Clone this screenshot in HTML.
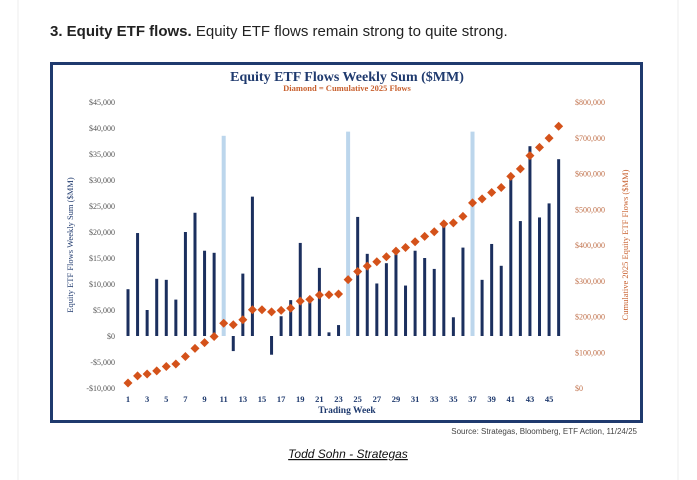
<!DOCTYPE html>
<html><head><meta charset="utf-8"><style>
html,body{margin:0;padding:0;background:#fff;width:697px;height:480px;overflow:hidden}
svg{display:block}
</style></head><body>
<svg id="chart" width="697" height="480" xmlns="http://www.w3.org/2000/svg">
<rect x="18" y="-2" width="660" height="490" fill="#fff" stroke="#eee"/>
<text x="50" y="36" font-family="Liberation Sans, sans-serif" font-size="15" fill="#222"><tspan font-weight="bold">3. Equity ETF flows.</tspan> Equity ETF flows remain strong to quite strong.</text>
<rect x="51.5" y="63.5" width="590" height="358" fill="#fff" stroke="#1f3a6e" stroke-width="3"/>
<text x="347" y="81" text-anchor="middle" font-family="Liberation Serif, serif" font-weight="bold" font-size="14" fill="#1f3a6e">Equity ETF Flows Weekly Sum ($MM)</text>
<text x="347" y="91" text-anchor="middle" font-family="Liberation Serif, serif" font-weight="bold" font-size="8.5" fill="#c8602e">Diamond = Cumulative 2025 Flows</text>
<text transform="translate(73,245) rotate(-90)" text-anchor="middle" font-family="Liberation Serif, serif" font-size="8.5" fill="#1f3a6e">Equity ETF Flows Weekly Sum ($MM)</text>
<text transform="translate(628,245) rotate(-90)" text-anchor="middle" font-family="Liberation Serif, serif" font-size="8.5" fill="#c8602e">Cumulative 2025 Equity ETF Flows ($MM)</text>
<text x="347" y="413" text-anchor="middle" font-family="Liberation Serif, serif" font-weight="bold" font-size="9.5" fill="#1f3a6e">Trading Week</text>
<text x="637" y="434" text-anchor="end" font-family="Liberation Sans Narrow, Liberation Sans, sans-serif" font-size="8" fill="#444">Source: Strategas, Bloomberg, ETF Action, 11/24/25</text>
<text x="348" y="458" text-anchor="middle" font-family="Liberation Sans, sans-serif" font-style="italic" font-size="12" fill="#111" text-decoration="underline">Todd Sohn - Strategas</text>
<g id="plot"></g>
</svg>
<script>
const weeks = Array.from({length:46},(_,i)=>i+1);
const weeklyFlows = [9000,19800,5000,11000,10800,7000,20000,23700,16400,16000,0,-2900,12000,26800,0,-3600,3800,6900,17900,6500,13100,700,2100,0,22900,15800,10100,14000,15700,9700,16400,15000,12900,21200,3600,17000,0,10800,17700,13500,30300,22100,36500,22800,25500,34000];
const holidayWeeks = [11,24,37];
const holidayValues = [38500,39300,39300];
const cumulative = [14000,34000,39000,48000,60000,67000,88000,111000,127000,144000,181000,177000,191000,219000,219000,213000,217000,223000,243000,248000,260000,261000,263000,303000,326000,341000,353000,367000,383000,393000,409000,424000,437000,459000,462000,480000,518000,529000,547000,561000,592000,613000,650000,673000,699000,732000];
const leftTicks = [45000,40000,35000,30000,25000,20000,15000,10000,5000,0,-5000,-10000];
const rightTicks = [800000,700000,600000,500000,400000,300000,200000,100000,0];
const xTickLabels = weeks.filter(w=>w%2===1);

const xS = w => 128 + (w-1)*9.57;
const yL = v => 336 - v*26/5000;
const yR = v => 388 - v*286/800000;
const NS='http://www.w3.org/2000/svg';
const g=document.getElementById('plot');
function mk(tag,attrs){const e=document.createElementNS(NS,tag);for(const k in attrs)e.setAttribute(k,attrs[k]);g.appendChild(e);return e;}
leftTicks.forEach(v=>{
  const t=mk('text',{x:115,y:yL(v)+3,'text-anchor':'end','font-family':'Liberation Serif, serif','font-size':'8',fill:'#555'});
  
  
  t.textContent=(v<0?'-$':'$')+Math.abs(v).toLocaleString('en-US');
});
rightTicks.forEach(v=>{
  const t=mk('text',{x:575,y:yR(v)+3,'font-family':'Liberation Serif, serif','font-size':'8',fill:'#c0704a'});
  
  
  t.textContent='$'+v.toLocaleString('en-US');
});
xTickLabels.forEach(w=>{
  const t=mk('text',{x:xS(w),y:402,'text-anchor':'middle','font-family':'Liberation Serif, serif','font-weight':'bold','font-size':'8.5',fill:'#1f3a6e'});
  
  
  t.textContent=w;
});
holidayWeeks.forEach((w,i)=>{
  const v=holidayValues[i];
  const r=mk('rect',{x:xS(w)-2,y:yL(v),width:4,height:yL(0)-yL(v),fill:'#bcd6ec'});
  
  
});
weeks.forEach((w,i)=>{
  const v=weeklyFlows[i]; if(v===0) return;
  const y0=Math.min(yL(v),yL(0)), h=Math.abs(yL(v)-yL(0));
  const r=mk('rect',{x:xS(w)-1.5,y:y0,width:3,height:h,fill:'#1b2f5e'});
  
  
});
weeks.forEach((w,i)=>{
  const cx=xS(w), cy=yR(cumulative[i]), s=4.5;
  const p=mk('polygon',{points:`${cx},${cy-s} ${cx+s},${cy} ${cx},${cy+s} ${cx-s},${cy}`,fill:'#d4521a'});
  
  
});
</script>
</body></html>
